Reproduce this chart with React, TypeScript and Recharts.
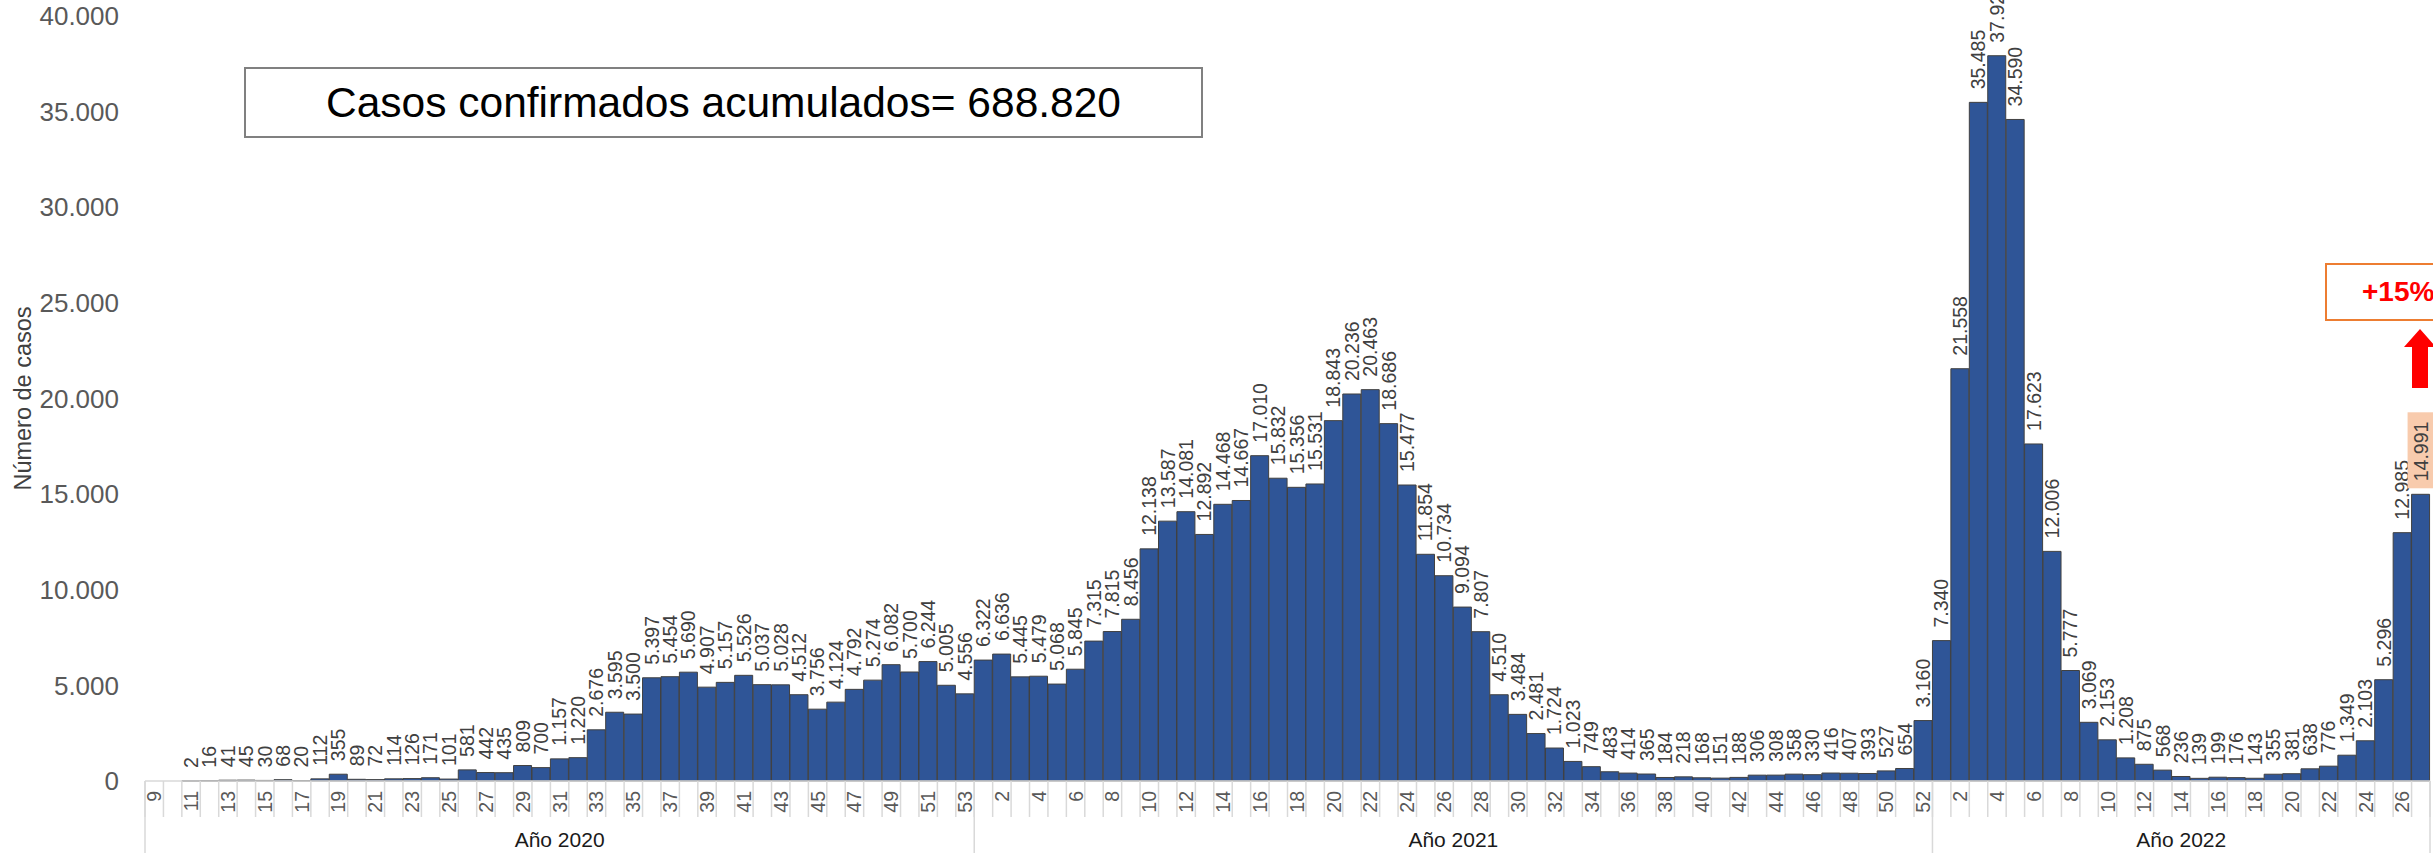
import React from 'react';
import { BarChart, Bar, XAxis, YAxis, LabelList } from 'recharts';

// semanas epidemiológicas por año
const weeks2020 = [9, 10, 11, 12, 13, 14, 15, 16, 17, 18, 19, 20, 21, 22, 23, 24, 25, 26, 27, 28, 29, 30, 31, 32, 33, 34, 35, 36, 37, 38, 39, 40, 41, 42, 43, 44, 45, 46, 47, 48, 49, 50, 51, 52, 53];
const cases2020 = [null, null, 2, 16, 41, 45, 30, 68, 20, 112, 355, 89, 72, 114, 126, 171, 101, 581, 442, 435, 809, 700, 1157, 1220, 2676, 3595, 3500, 5397, 5454, 5690, 4907, 5157, 5526, 5037, 5028, 4512, 3756, 4124, 4792, 5274, 6082, 5700, 6244, 5005, 4556];

const weeks2021 = [1, 2, 3, 4, 5, 6, 7, 8, 9, 10, 11, 12, 13, 14, 15, 16, 17, 18, 19, 20, 21, 22, 23, 24, 25, 26, 27, 28, 29, 30, 31, 32, 33, 34, 35, 36, 37, 38, 39, 40, 41, 42, 43, 44, 45, 46, 47, 48, 49, 50, 51, 52];
const cases2021 = [6322, 6636, 5445, 5479, 5068, 5845, 7315, 7815, 8456, 12138, 13587, 14081, 12892, 14468, 14667, 17010, 15832, 15356, 15531, 18843, 20236, 20463, 18686, 15477, 11854, 10734, 9094, 7807, 4510, 3484, 2481, 1724, 1023, 749, 483, 414, 365, 184, 218, 168, 151, 188, 306, 308, 358, 330, 416, 407, 393, 527, 654, 3160];

const weeks2022 = [1, 2, 3, 4, 5, 6, 7, 8, 9, 10, 11, 12, 13, 14, 15, 16, 17, 18, 19, 20, 21, 22, 23, 24, 25, 26, 27];
const cases2022 = [7340, 21558, 35485, 37923, 34590, 17623, 12006, 5777, 3069, 2153, 1208, 875, 568, 236, 139, 199, 176, 143, 355, 381, 638, 776, 1349, 2103, 5296, 12985, 14991];

const yearLabels = ['Año 2020', 'Año 2021', 'Año 2022'];
const yTicks = [0, 5000, 10000, 15000, 20000, 25000, 30000, 35000, 40000];

const FONT = '"Liberation Sans", Arial, sans-serif';
const WIDTH = 2433;
const HEIGHT = 853;
const PLOT_LEFT = 145;
const PLOT_RIGHT = 2430;

const groups = [
    { label: yearLabels[0], weeks: weeks2020, cases: cases2020 },
    { label: yearLabels[1], weeks: weeks2021, cases: cases2021 },
    { label: yearLabels[2], weeks: weeks2022, cases: cases2022 },
];

const data = groups.flatMap((g) =>
    g.weeks.map((w, i) => ({ key: `${g.label}-${w}`, week: w, cases: g.cases[i] }))
);

// first/last index of each year
let acc = 0;
const ranges = groups.map((g) => {
    const start = acc;
    acc += g.weeks.length;
    return { label: g.label, start, end: acc - 1 };
});

const BAND = (PLOT_RIGHT - PLOT_LEFT) / data.length;
const LAST_VALUE = cases2022[cases2022.length - 1];

const fmt = (n: number) => String(n).replace(/\B(?=(\d{3})+(?!\d))/g, '.');

const WeekTick = (props: any) => {
    const { x, y, index } = props;
    const left = x - BAND / 2;
    const top = y - 10;
    return (
        <g>
            <line x1={left} x2={left} y1={top} y2={top + 36} stroke="#d9d9d9" strokeWidth={1.5} />
            {index === data.length - 1 && (
                <line x1={left + BAND} x2={left + BAND} y1={top} y2={top + 36} stroke="#d9d9d9" strokeWidth={1.5} />
            )}
            {index % 2 === 0 && (
                <text
                    transform={`translate(${x},${y}) rotate(-90)`}
                    textAnchor="end"
                    dominantBaseline="central"
                    fontSize={19.5}
                    fontFamily={FONT}
                    fill="#595959"
                >
                    {data[index].week}
                </text>
            )}
        </g>
    );
};

const YearTick = (props: any) => {
    const { x, y, index } = props;
    const left = x - BAND / 2;
    const items: React.ReactNode[] = [];
    ranges.forEach((r) => {
        if (index === r.start) {
            items.push(<line key="s" x1={left} x2={left} y1={y - 36} y2={y + 36} stroke="#d9d9d9" strokeWidth={1.5} />);
        }
        if (index === data.length - 1 && r.end === index) {
            items.push(<line key="e" x1={left + BAND} x2={left + BAND} y1={y - 36} y2={y + 36} stroke="#d9d9d9" strokeWidth={1.5} />);
        }
        const mid = (r.start + r.end) / 2;
        if (index === Math.floor(mid)) {
            items.push(
                <text key="t" x={x + (mid - index) * BAND} y={y + 30} textAnchor="middle" fontSize={21} fontFamily={FONT} fill="#1a1a1a">
                    {r.label}
                </text>
            );
        }
    });
    return <g>{items}</g>;
};

const ValueLabel = (props: any) => {
    const { x, y, width, value } = props;
    if (value == null) return null;
    const cx = Number(x) + Number(width) / 2;
    const top = Number(y);
    // highlighted latest week
    const last = value === LAST_VALUE;
    return (
        <g>
            {last && <rect x={cx - 13} y={top - 82} width={26} height={76} fill="#F8CBAD" />}
            <text
                transform={`translate(${cx},${top - 13}) rotate(-90)`}
                textAnchor="start"
                dominantBaseline="central"
                fontSize={19.5}
                fontFamily={FONT}
                fill="#404040"
            >
                {fmt(value)}
            </text>
        </g>
    );
};

export default function App() {
    return (
        <div style={{ position: 'absolute', left: 0, top: 0, width: WIDTH, height: HEIGHT, overflow: 'hidden', background: '#fff', fontFamily: FONT }}>
            <BarChart
                width={WIDTH}
                height={HEIGHT}
                data={data}
                margin={{ top: 16, right: WIDTH - PLOT_RIGHT, left: 0, bottom: 0 }}
                barCategoryGap={0}
                barGap={0}
            >
                <XAxis
                    dataKey="key"
                    interval={0}
                    height={36}
                    tickSize={0}
                    tickMargin={10}
                    tickLine={false}
                    axisLine={{ stroke: '#d9d9d9', strokeWidth: 1.5 }}
                    tick={<WeekTick />}
                />
                <XAxis
                    xAxisId="yr"
                    dataKey="key"
                    interval={0}
                    height={36}
                    tickSize={0}
                    tickMargin={0}
                    tickLine={false}
                    axisLine={false}
                    tick={<YearTick />}
                />
                <YAxis
                    width={PLOT_LEFT}
                    domain={[0, 40000]}
                    ticks={yTicks}
                    interval={0}
                    tickFormatter={fmt}
                    axisLine={false}
                    tickLine={false}
                    tickMargin={20}
                    tick={{ fontSize: 26, fill: '#595959', fontFamily: FONT }}
                    label={{
                        value: 'Número de casos',
                        angle: -90,
                        position: 'insideLeft',
                        offset: 23,
                        fontSize: 23.5,
                        fill: '#404040',
                        style: { textAnchor: 'middle', fontSize: 23.5, fill: '#404040', fontFamily: FONT },
                    }}
                />
                <Bar dataKey="cases" fill="#2F5597" stroke="#404040" strokeWidth={1} isAnimationActive={false}>
                    <LabelList dataKey="cases" content={<ValueLabel />} />
                </Bar>
            </BarChart>

            <div
                style={{
                    position: 'absolute',
                    left: 244,
                    top: 67,
                    width: 959,
                    height: 71,
                    boxSizing: 'border-box',
                    border: '2px solid #808080',
                    background: '#fff',
                    display: 'flex',
                    alignItems: 'center',
                    justifyContent: 'center',
                    fontSize: 42.5,
                    color: '#000',
                }}
            >
                Casos confirmados acumulados= 688.820
            </div>

            <div
                style={{
                    position: 'absolute',
                    left: 2325,
                    top: 263,
                    width: 200,
                    height: 58,
                    boxSizing: 'border-box',
                    border: '2px solid #ED7D31',
                    background: '#fff',
                    display: 'flex',
                    alignItems: 'center',
                    paddingLeft: 35,
                    fontSize: 28,
                    fontWeight: 'bold',
                    color: '#FF0000',
                }}
            >
                +15%
            </div>

            <svg style={{ position: 'absolute', left: 2400, top: 325 }} width={40} height={70}>
                <polygon points="20,4 4,22 12,22 12,63 28,63 28,22 36,22" fill="#FF0000" />
            </svg>
        </div>
    );
}
